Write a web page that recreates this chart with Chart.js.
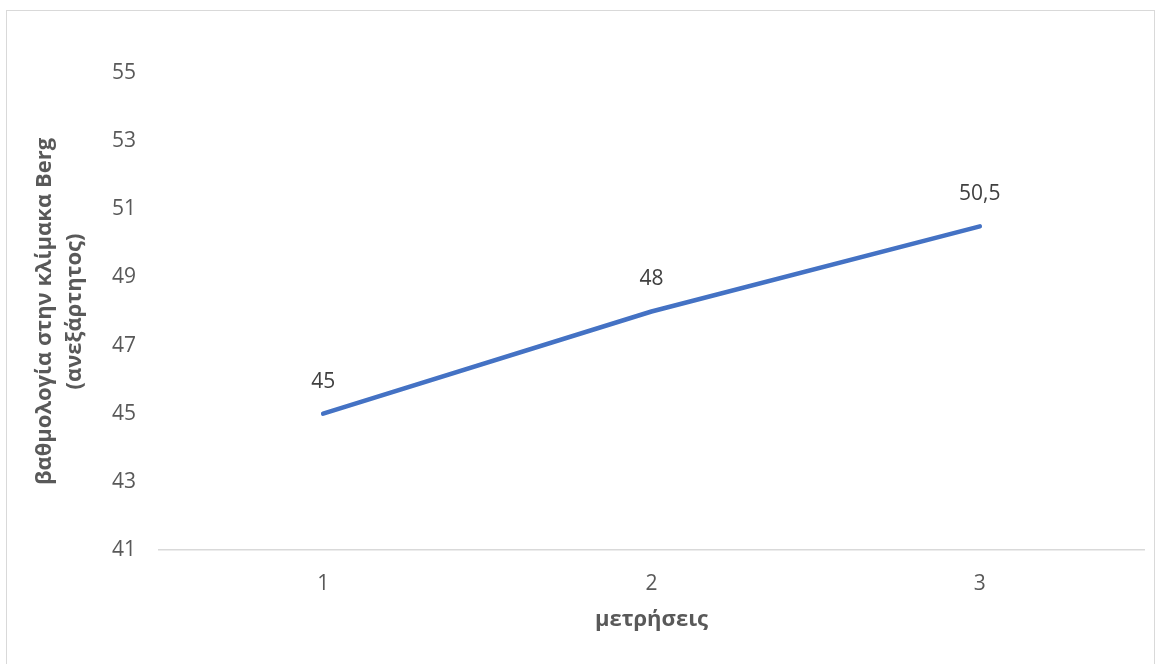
<!DOCTYPE html>
<html>
<head>
<meta charset="utf-8">
<script src="https://cdn.jsdelivr.net/npm/chart.js@4.4.0/dist/chart.umd.min.js"></script>
<style>
    html, body { margin: 0; padding: 0; background: #fff; overflow: hidden; }
    #wrap { position: absolute; left: 6px; top: 10px; width: 1147px; height: 653px; border: 1px solid #d9d9d9; }
    canvas { display: block; }
</style>
</head>
<body>
<div id="wrap"><canvas id="lineChart" width="1147" height="653"></canvas></div>
<script>
// dados do gráfico
const metriseis = ['1', '2', '3'];
const vathmologia = [45, 48, 50.5];
const yTitle = ['βαθμολογία στην κλίμακα Berg', '(ανεξάρτητος)'];
const xTitle = 'μετρήσεις';

const fontFamily = '"Open Sans", "Noto Sans", sans-serif';

// rótulos de valor acima dos pontos
const valueLabels = {
    id: 'valueLabels',
    afterDatasetsDraw(chart) {
        const ctx = chart.ctx;
        const meta = chart.getDatasetMeta(0);
        ctx.save();
        ctx.font = '21px ' + fontFamily;
        ctx.fillStyle = '#404040';
        ctx.textAlign = 'center';
        ctx.textBaseline = 'middle';
        meta.data.forEach((pt, i) => {
            const txt = String(vathmologia[i]).replace('.', ',');
            ctx.fillText(txt, pt.x, pt.y - 32);
        });
        ctx.restore();
    }
};

new Chart(document.getElementById('lineChart'), {
    type: 'line',
    data: {
        labels: metriseis,
        datasets: [{
            data: vathmologia,
            borderColor: '#4472C4',
            borderWidth: 4.5,
            borderCapStyle: 'round',
            borderJoinStyle: 'round',
            pointRadius: 0,
            fill: false,
            tension: 0
        }]
    },
    options: {
        responsive: false,
        animation: false,
        layout: { padding: { top: 62, right: 10, bottom: 24, left: 0 } },
        plugins: {
            legend: { display: false },
            tooltip: { enabled: false }
        },
        scales: {
            x: {
                offset: true,
                afterFit: (s) => { s.height = 90; },
                grid: { display: false, drawTicks: false },
                border: { display: true, color: '#d9d9d9', width: 1.5 },
                ticks: { padding: 21, color: '#595959', font: { family: fontFamily, size: 21 } },
                title: {
                    display: true,
                    text: xTitle,
                    color: '#595959',
                    padding: { top: 0, bottom: 7 },
                    font: { family: fontFamily, size: 22, weight: 'bold' }
                }
            },
            y: {
                min: 41,
                max: 55,
                afterFit: (s) => { s.width = 152; },
                grid: { display: false, drawTicks: false },
                border: { display: false },
                ticks: { stepSize: 2, padding: 23, color: '#595959', font: { family: fontFamily, size: 21 } },
                title: {
                    display: true,
                    text: yTitle,
                    color: '#595959',
                    padding: { top: 22, bottom: 0 },
                    font: { family: fontFamily, size: 22, weight: 'bold', lineHeight: 1.4 }
                }
            }
        }
    },
    plugins: [valueLabels]
});
</script>
</body>
</html>
